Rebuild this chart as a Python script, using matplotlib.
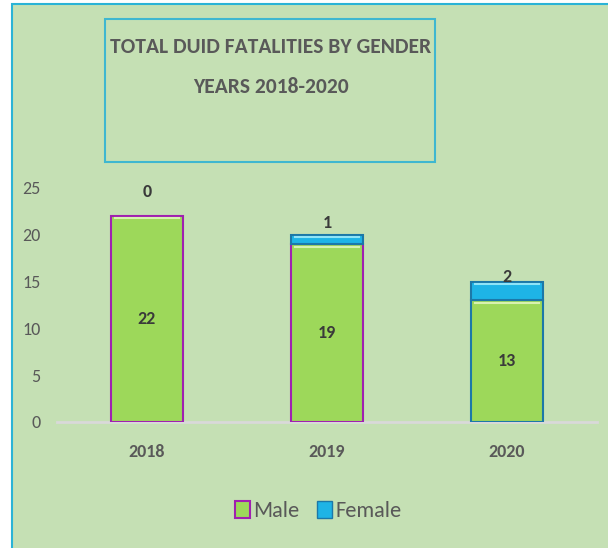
import matplotlib
matplotlib.use("Agg")
import matplotlib.pyplot as plt
from matplotlib.patches import Rectangle, Patch

years = ["2018", "2019", "2020"]
male = [22, 19, 13]
female = [0, 1, 2]
y_ticks = [0, 5, 10, 15, 20, 25]

GREEN_BG = "#C5E0B4"
BAR_GREEN = "#9DD85A"
FEMALE_BLUE = "#1EB4E6"
MAGENTA = "#A020B0"
DARK_BLUE = "#1C78A8"
TEXT = "#595959"
LABEL = "#3A3A3A"
FONT = ["Carlito", "Lato"]

W, H = 608, 548
fig = plt.figure(figsize=(W / 100, H / 100), dpi=100)
fig.patch.set_facecolor("white")

# outer green panel with cyan border
fig.patches.append(Rectangle((12 / W, -0.01), 1.0, 1 - 4 / H + 0.01, transform=fig.transFigure,
                             facecolor=GREEN_BG, edgecolor="#2BB3D6", linewidth=1.5, zorder=-2))
# title box
fig.patches.append(Rectangle((105 / W, 1 - 162 / H), 330 / W, 143 / H, transform=fig.transFigure,
                             facecolor="none", edgecolor="#3FB7D0", linewidth=1.5, zorder=-1))
fig.text(271 / W, 1 - 47 / H, "TOTAL DUID FATALITIES BY GENDER", ha="center", va="center",
         fontsize=15.5, fontweight="bold", color=TEXT, family=FONT)
fig.text(271 / W, 1 - 87 / H, "YEARS 2018-2020", ha="center", va="center",
         fontsize=15.5, fontweight="bold", color=TEXT, family=FONT)

ax = fig.add_axes([57 / W, 1 - 422 / H, (597 - 57) / W, (422 - 188) / H])
ax.set_facecolor("none")
ax.set_zorder(2)
x = list(range(len(years)))
male_edges = [MAGENTA, MAGENTA, DARK_BLUE]
ax.bar(x, male, width=0.4, color=BAR_GREEN, edgecolor=male_edges, linewidth=1.5, zorder=3)
ax.bar(x, female, width=0.4, bottom=male, color=FEMALE_BLUE,
       edgecolor=[DARK_BLUE if f > 0 else "none" for f in female], linewidth=1.5, zorder=3)

# bevel highlight lines at top of each segment
for xi, m, f in zip(x, male, female):
    ax.plot([xi - 0.18, xi + 0.18], [m - 0.25, m - 0.25], color="#D8F2B0", lw=1.5, zorder=4)
    if f > 0:
        ax.plot([xi - 0.18, xi + 0.18], [m + f - 0.25, m + f - 0.25], color="#8FE4F8", lw=1.5, zorder=4)

for xi, m in zip(x, male):
    ax.text(xi, m / 2, str(m), ha="center", va="center", fontsize=13, fontweight="bold",
            color=LABEL, family=FONT, zorder=5)
female_label_offset = [2.6, 1.3, 0.5]
for xi, m, f, off in zip(x, male, female, female_label_offset):
    ax.text(xi, m + f + off, str(f), ha="center", va="center", fontsize=13, fontweight="bold",
            color=LABEL, family=FONT, zorder=5)

ax.set_xlim(-0.5, 2.5)
ax.set_ylim(0, 25)
ax.set_yticks(y_ticks)
ax.set_xticks(x)
ax.set_xticklabels(years, fontsize=13, fontweight="bold", color=TEXT, family=FONT)
ax.set_yticklabels([str(t) for t in y_ticks], fontsize=13, color=TEXT, family=FONT)
ax.tick_params(axis="both", length=0)
ax.tick_params(axis="y", pad=12)
ax.tick_params(axis="x", pad=16)
for s in ["top", "right", "left"]:
    ax.spines[s].set_visible(False)
ax.spines["bottom"].set_color("#D9D9D9")
ax.spines["bottom"].set_linewidth(2)

handles = [Patch(facecolor=BAR_GREEN, edgecolor=MAGENTA, linewidth=1.5),
           Patch(facecolor=FEMALE_BLUE, edgecolor=DARK_BLUE, linewidth=1.0)]
leg = fig.legend(handles, ["Male", "Female"], loc="center", bbox_to_anchor=(318 / W, 1 - 511 / H),
                 ncol=2, frameon=False, handlelength=0.68, handleheight=0.8, handletextpad=0.15,
                 columnspacing=0.8, prop={"family": FONT, "size": 16})
for t in leg.get_texts():
    t.set_color(TEXT)

fig.savefig("out.png", dpi=100)
